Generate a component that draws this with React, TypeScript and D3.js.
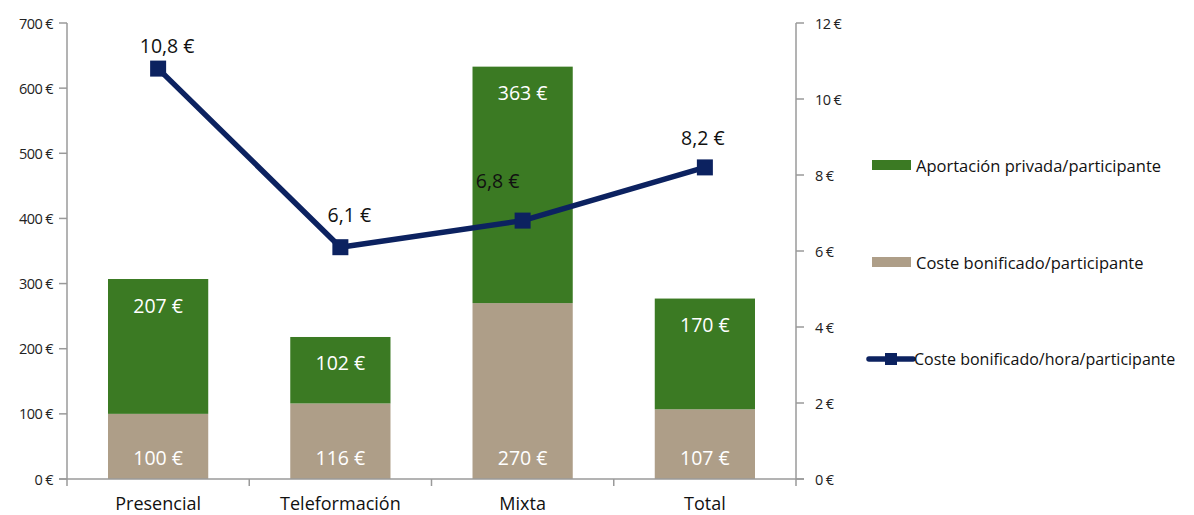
import React from "react";
import * as d3 from "d3";

const categories = ["Presencial", "Teleformación", "Mixta", "Total"];
const costeBonificado = [100, 116, 270, 107];
const aportacionPrivada = [207, 102, 363, 170];
const costeHora = [10.8, 6.1, 6.8, 8.2];
const leftTicks = [0, 100, 200, 300, 400, 500, 600, 700];
const rightTicks = [0, 2, 4, 6, 8, 10, 12];
const lineLabelNudge = [[9, -23], [9, -33], [-25, -40], [-2, -30]];

const GREEN = "#3b7a23";
const BEIGE = "#ae9e88";
const NAVY = "#0c2260";
const AXIS = "#9a9a9a";
const FONT = "'Open Sans', sans-serif";

const fmt = (v: number) => String(v).replace(".", ",") + " €";

export default function App() {
  const W = 1194, H = 515;
  const x0 = 67, x1 = 796, yTop = 23, yBot = 479;
  const x = d3.scaleBand<string>().domain(categories).range([x0, x1]).paddingInner(0.45).paddingOuter(0.225);
  const xb = d3.scaleBand<string>().domain(categories).range([x0, x1]);
  const yL = d3.scaleLinear().domain([0, 700]).range([yBot, yTop]);
  const yR = d3.scaleLinear().domain([0, 12]).range([yBot, yTop]);
  const cx = (c: string) => (xb(c) as number) + xb.bandwidth() / 2;
  const line = d3.line<number>().x((_, i) => cx(categories[i])).y((d) => yR(d));
  const bw = x.bandwidth();

  return (
    <svg width={W} height={H} style={{ position: "absolute", left: 0, top: 0 }} fontFamily={FONT}>
      <rect width={W} height={H} fill="#fff" />
      {categories.map((c, i) => {
        const xl = x(c) as number;
        const b = costeBonificado[i], a = aportacionPrivada[i];
        return (
          <g key={c}>
            <rect x={xl} y={yL(b)} width={bw} height={yL(0) - yL(b)} fill={BEIGE} />
            <rect x={xl} y={yL(a + b)} width={bw} height={yL(b) - yL(a + b)} fill={GREEN} />
            <text x={xl + bw / 2} y={yL(a + b) + 26} fill="#fff" fontSize={19.5} textAnchor="middle" dominantBaseline="central">{fmt(a)}</text>
            <text x={xl + bw / 2} y={yL(0) - 22} fill="#fff" fontSize={19.5} textAnchor="middle" dominantBaseline="central">{fmt(b)}</text>
          </g>
        );
      })}
      <line x1={x0} x2={x0} y1={yTop} y2={yBot} stroke={AXIS} strokeWidth={1.5} />
      <line x1={x1} x2={x1} y1={yTop} y2={yBot + 7} stroke={AXIS} strokeWidth={1.5} />
      <line x1={x0 - 8} x2={x1 + 8} y1={yBot} y2={yBot} stroke={AXIS} strokeWidth={1.5} />
      {leftTicks.map((t) => (
        <g key={"l" + t}>
          <line x1={x0 - 8} x2={x0} y1={yL(t)} y2={yL(t)} stroke={AXIS} strokeWidth={1.5} />
          <text x={53} y={yL(t)} fontSize={14.5} letterSpacing={-0.6} textAnchor="end" dominantBaseline="central" fill="#222">{t + " €"}</text>
        </g>
      ))}
      {rightTicks.map((t) => (
        <g key={"r" + t}>
          <line x1={x1} x2={x1 + 8} y1={yR(t)} y2={yR(t)} stroke={AXIS} strokeWidth={1.5} />
          <text x={815} y={yR(t)} fontSize={14.5} letterSpacing={-0.6} textAnchor="start" dominantBaseline="central" fill="#222">{t + " €"}</text>
        </g>
      ))}
      {categories.map((c) => (
        <g key={"c" + c}>
          <line x1={xb(c) as number} x2={xb(c) as number} y1={yBot} y2={yBot + 7} stroke={AXIS} strokeWidth={1.5} />
          <text x={cx(c)} y={503} fontSize={18} textAnchor="middle" dominantBaseline="central" fill="#111">{c}</text>
        </g>
      ))}
      <path d={line(costeHora) as string} fill="none" stroke={NAVY} strokeWidth={5.5} strokeLinejoin="round" />
      {costeHora.map((v, i) => (
        <g key={"p" + i}>
          <rect x={cx(categories[i]) - 8} y={yR(v) - 8} width={16} height={16} fill={NAVY} />
          <text x={cx(categories[i]) + lineLabelNudge[i][0]} y={yR(v) + lineLabelNudge[i][1]} fontSize={19.5} textAnchor="middle" dominantBaseline="central" fill="#111">{fmt(v)}</text>
        </g>
      ))}
      <rect x={872} y={160} width={39} height={10} fill={GREEN} />
      <text x={916} y={165} fontSize={16.5} dominantBaseline="central" fill="#111">Aportación privada/participante</text>
      <rect x={872} y={257} width={39} height={10} fill={BEIGE} />
      <text x={916} y={262} fontSize={16.5} dominantBaseline="central" fill="#111">Coste bonificado/participante</text>
      <line x1={869} x2={913} y1={359} y2={359} stroke={NAVY} strokeWidth={5.5} strokeLinecap="round" />
      <rect x={885} y={353} width={12} height={12} fill={NAVY} />
      <text x={914} y={359} fontSize={16} dominantBaseline="central" fill="#111">Coste bonificado/hora/participante</text>
    </svg>
  );
}
